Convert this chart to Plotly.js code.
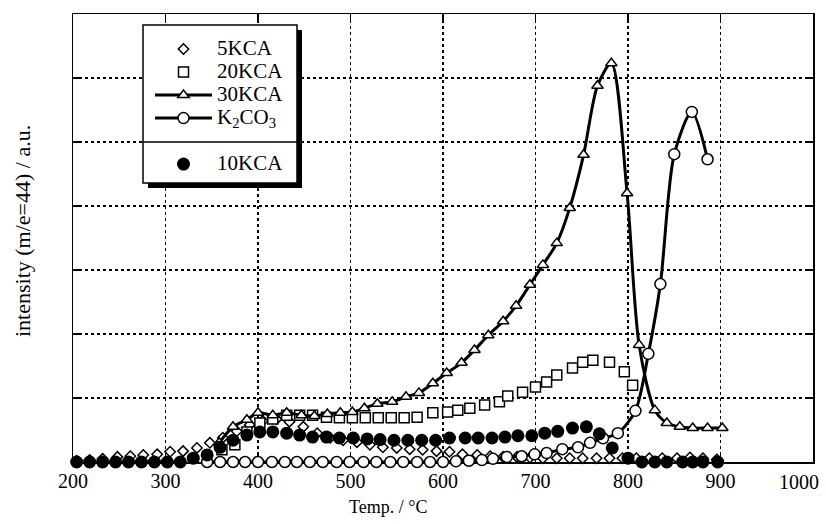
<!DOCTYPE html>
<html><head><meta charset="utf-8">
<script src="https://cdn.plot.ly/plotly-3.0.1.min.js"></script>
<style>html,body{margin:0;padding:0;background:#fff}</style>
</head><body><div id="chart" style="width:826px;height:524px"></div>
<script>
// 5KCA (open diamonds)
const t5KCA = [204,218,232,248,262,276,291,305,319,334,348,362,377,391,405,420,434,449,464,478,492,507,521,535,550,564,578,593,607,621,637,651,665,680,694,708,723,737,751,766,780,794,809,823,837,853,867,881,896];
const v5KCA = [0.02,0.03,0.05,0.08,0.09,0.11,0.12,0.16,0.17,0.22,0.30,0.38,0.48,0.58,0.64,0.67,0.63,0.55,0.45,0.38,0.34,0.31,0.27,0.23,0.22,0.20,0.19,0.17,0.16,0.12,0.11,0.09,0.08,0.08,0.07,0.06,0.06,0.06,0.06,0.06,0.06,0.06,0.06,0.06,0.06,0.06,0.07,0.06,0.04];
// 20KCA (open squares)
const t20KCA = [361,375,388,402,416,431,445,459,474,488,502,516,530,544,558,572,589,605,616,629,645,661,670,686,700,712,723,740,751,762,780,796,805];
const v20KCA = [0.19,0.27,0.47,0.61,0.67,0.73,0.73,0.73,0.70,0.69,0.69,0.69,0.69,0.69,0.69,0.70,0.77,0.78,0.81,0.84,0.89,0.94,1.03,1.09,1.17,1.25,1.36,1.47,1.56,1.59,1.56,1.41,1.20];
// 30KCA (line + open triangles)
const t30KCA = [358,373,388,400,416,431,447,461,475,489,502,515,529,545,560,574,589,604,620,634,649,665,679,694,708,723,737,752,767,782,799,812,829,842,856,870,886,902];
const v30KCA = [0.30,0.55,0.66,0.77,0.73,0.77,0.73,0.72,0.75,0.77,0.78,0.84,0.91,0.94,1.02,1.08,1.23,1.39,1.55,1.75,1.98,2.20,2.44,2.77,3.08,3.42,3.97,4.80,5.88,6.23,4.20,1.83,0.81,0.61,0.55,0.53,0.53,0.53];
// K2CO3 (line + open circles)
const tK2CO3 = [345,359,373,386,400,415,429,442,456,470,485,499,514,528,543,557,572,586,600,614,628,642,654,669,685,699,712,729,746,759,773,789,808,822,835,850,869,886];
const vK2CO3 = [0,0,0,0,0,0,0,0,0,0,0,0,0,0,0,0,0,0,0,0.01,0.02,0.03,0.05,0.08,0.09,0.12,0.14,0.20,0.23,0.30,0.37,0.45,0.80,1.69,2.78,4.81,5.47,4.73];
// 10KCA (filled circles)
const t10KCA = [204,218,232,246,260,274,288,302,316,330,345,359,373,388,402,416,431,445,459,474,488,503,518,532,547,562,577,592,607,624,638,653,667,681,696,710,724,740,755,769,783,800,815,829,842,859,870,881,897];
const v10KCA = [0,0,0,0,0,0,0,0,0,0.06,0.11,0.23,0.34,0.42,0.47,0.47,0.45,0.42,0.39,0.39,0.375,0.375,0.36,0.35,0.34,0.34,0.34,0.34,0.375,0.375,0.375,0.375,0.39,0.41,0.41,0.45,0.48,0.53,0.55,0.44,0.22,0.06,0,0,0,0,0,0,0];

const xTicks = [200,300,400,500,600,700,800,900,1000];
const xTickText = ['200','300','400','500','600','700','800','900',''];
const lastTickLabel = '1000';
const names = ['5KCA','20KCA','30KCA','K<sub>2</sub>CO<sub>3</sub>','10KCA'];

const FONT = 'Liberation Serif, Times New Roman, serif';
const INK = '#000';
const big = s => '<span style="font-size:21px">' + s + '</span>';
const openMk = (sym, size) => ({symbol: sym, size: size, color: '#fff', line: {color: INK, width: 1.5}});

const traces = [
  {type:'scatter', mode:'markers', name:big(names[0]), x:t5KCA, y:v5KCA, legendgroup:'a', cliponaxis:false, marker:openMk('diamond', 8)},
  {type:'scatter', mode:'markers', name:big(names[1]), x:t20KCA, y:v20KCA, legendgroup:'a', cliponaxis:false, marker:openMk('square', 10)},
  {type:'scatter', mode:'lines+markers', name:big(names[2]), x:t30KCA, y:v30KCA, legendgroup:'a', cliponaxis:false,
   line:{color:INK, width:3, shape:'spline', smoothing:0.8}, marker:openMk('triangle-up', 10)},
  {type:'scatter', mode:'lines+markers', name:big(names[3]), x:tK2CO3, y:vK2CO3, legendgroup:'a', cliponaxis:false,
   line:{color:INK, width:3, shape:'spline', smoothing:0.8}, marker:openMk('circle', 11)},
  {type:'scatter', mode:'markers', name:big(names[4]), x:t10KCA, y:v10KCA, legendgroup:'b', cliponaxis:false,
   marker:{symbol:'circle', size:13, color:INK}}
];

// legend box geometry (pixels) -> paper
const L = 73, R = 813, T = 14, B = 462;
const px = p => (p - L) / (R - L);
const py = p => (B - p) / (B - T);
const bx0 = 143, bx1 = 297, by0 = 25, by1 = 183, divY = 142;

const axisCommon = {
  showline:true, linecolor:INK, linewidth:1.5, mirror:'ticks',
  ticks:'inside', ticklen:7, tickwidth:1.5, tickcolor:INK,
  showgrid:true, gridcolor:INK, gridwidth:1.5, griddash:'3px,3px',
  zeroline:false, layer:'below traces', fixedrange:true
};

const layout = {
  width:826, height:524,
  margin:{l:L, r:826-R, t:T, b:524-B},
  paper_bgcolor:'#fff', plot_bgcolor:'#fff',
  font:{family:FONT, color:INK, size:20},
  showlegend:true,
  legend:{x:px(150), y:py(32.5), xanchor:'left', yanchor:'top',
          bgcolor:'rgba(0,0,0,0)', borderwidth:0,
          font:{family:FONT, size:15.4, color:INK},
          traceorder:'grouped', tracegroupgap:23, itemwidth:57},
  xaxis:Object.assign({}, axisCommon, {range:[200,1000], tickmode:'array', tickvals:xTicks, ticktext:xTickText,
          tickfont:{family:FONT, size:20, color:INK}}),
  yaxis:Object.assign({}, axisCommon, {range:[0,7], dtick:1, tick0:0, showticklabels:false}),
  shapes:[
    {type:'rect', xref:'paper', yref:'paper', x0:px(bx0+5), x1:px(bx1+5), y0:py(by1+5), y1:py(by0+5),
     fillcolor:INK, line:{width:0}, layer:'above'},
    {type:'rect', xref:'paper', yref:'paper', x0:px(bx0), x1:px(bx1), y0:py(by1), y1:py(by0),
     fillcolor:'#fff', line:{color:INK, width:1.5}, layer:'above'},
    {type:'line', xref:'paper', yref:'paper', x0:px(bx0), x1:px(bx1), y0:py(divY), y1:py(divY),
     line:{color:INK, width:1.5}, layer:'above'}
  ],
  annotations:[
    {text:lastTickLabel, xref:'x', yref:'paper', x:xTicks[xTicks.length-1], y:py(482), xanchor:'right', yanchor:'middle',
     xshift:8, showarrow:false, font:{family:FONT, size:20, color:INK}},
    {text:'Temp. / °C', xref:'paper', yref:'paper', x:px(388), y:py(507), xanchor:'center', yanchor:'middle',
     showarrow:false, font:{family:FONT, size:18, color:INK}},
    {text:'intensity (m/e=44) / a.u.', xref:'paper', yref:'paper', x:px(22), y:py(231), xanchor:'center', yanchor:'middle',
     textangle:-90, showarrow:false, font:{family:FONT, size:22, color:INK}}
  ]
};

Plotly.newPlot('chart', traces, layout, {displayModeBar:false, staticPlot:true});
</script></body></html>
